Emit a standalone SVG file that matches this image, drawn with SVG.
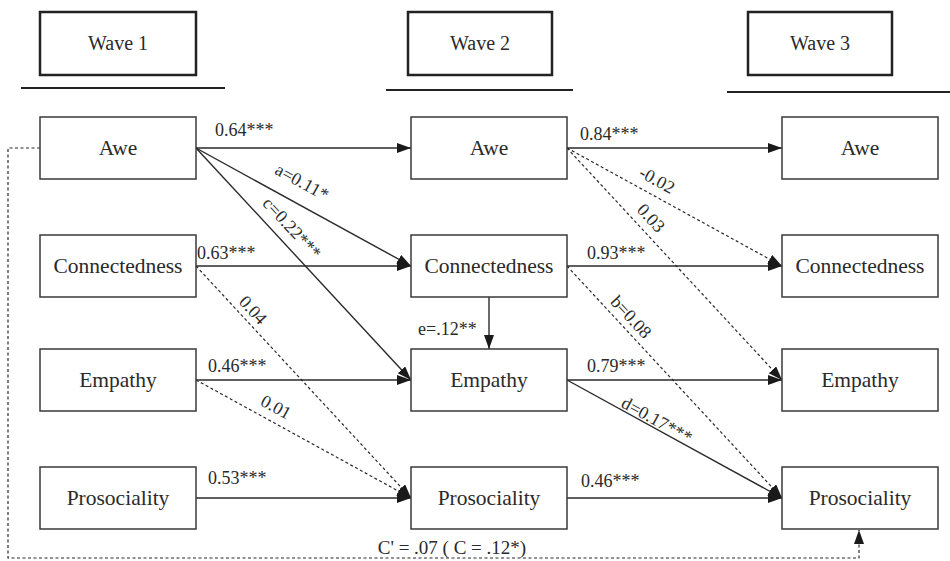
<svg xmlns="http://www.w3.org/2000/svg" width="950" height="561" viewBox="0 0 950 561">
<style>
.hdr{fill:#fff;stroke:#222;stroke-width:2.5}
.hline{stroke:#222;stroke-width:2.2}
.box{fill:#fff;stroke:#3a3a3a;stroke-width:1.5}
text{fill:#2a2a2a}
.ht{font-size:20px;text-anchor:middle}
.nt{font-size:21.5px;text-anchor:middle}
.lb{font-size:18px}
.rl{font-size:18px;text-anchor:middle}
.s{fill:none;stroke:#2a2a2a;stroke-width:1.4;marker-end:url(#ah)}
.d{fill:none;stroke:#2a2a2a;stroke-width:1.2;stroke-dasharray:3 2.5;marker-end:url(#ah)}
</style>
<defs>
<marker id="ah" markerUnits="userSpaceOnUse" markerWidth="15" markerHeight="11" refX="14" refY="5" orient="auto">
<path d="M0,0 L14,5 L0,10 z" fill="#1a1a1a"/>
</marker>
</defs>
<rect width="950" height="561" fill="#fff"/>
<g font-family="Liberation Serif, DejaVu Serif, Times New Roman, serif">
<g id="headers">
<g id="wave1"><rect class="hdr" x="40" y="12" width="156" height="63"/><text class="ht" x="118" y="50">Wave 1</text><line class="hline" x1="21" y1="88" x2="225" y2="88"/></g>
<g id="wave2"><rect class="hdr" x="408" y="12" width="144" height="63"/><text class="ht" x="480" y="50">Wave 2</text><line class="hline" x1="386" y1="90" x2="573" y2="90"/></g>
<g id="wave3"><rect class="hdr" x="748" y="12" width="144" height="63"/><text class="ht" x="820" y="50">Wave 3</text><line class="hline" x1="727" y1="92" x2="950" y2="92"/></g>
</g>
<g id="connectors">
<path class="s" d="M196,148 H411"/>
<path class="s" d="M196,148 L411,266"/>
<path class="s" d="M196,148 L411,380"/>
<path class="s" d="M196,266 H411"/>
<path class="d" d="M196,266 L411,498"/>
<path class="s" d="M196,380 H411"/>
<path class="d" d="M196,380 L411,498"/>
<path class="s" d="M196,498 H411"/>
<path class="s" d="M489,297 V349"/>
<path class="s" d="M567,148 H782"/>
<path class="d" d="M567,148 L782,266"/>
<path class="d" d="M567,148 L782,380"/>
<path class="s" d="M567,266 H782"/>
<path class="d" d="M567,266 L782,498"/>
<path class="s" d="M567,380 H782"/>
<path class="s" d="M567,380 L782,498"/>
<path class="s" d="M567,498 H782"/>
<path class="d" d="M40,148 H8 V558 H859 V530"/>
</g>
<g id="labels">
<text class="lb" x="215" y="136">0.64***</text>
<text class="lb" x="197" y="259">0.63***</text>
<text class="lb" x="208" y="372">0.46***</text>
<text class="lb" x="208" y="484">0.53***</text>
<text class="lb" x="580" y="140">0.84***</text>
<text class="lb" x="587" y="259">0.93***</text>
<text class="lb" x="587" y="372">0.79***</text>
<text class="lb" x="581" y="487">0.46***</text>
<text class="lb" x="418" y="335">e=.12**</text>
<text class="rl" transform="translate(302,182) rotate(28.8)" dy="6">a=0.11*</text>
<text class="rl" transform="translate(292,228) rotate(47.2)" dy="6">c=0.22***</text>
<text class="rl" transform="translate(253,310) rotate(47.2)" dy="6">0.04</text>
<text class="rl" transform="translate(276,407) rotate(28.8)" dy="6">0.01</text>
<text class="rl" transform="translate(657,180) rotate(28.8)" dy="6">-0.02</text>
<text class="rl" transform="translate(651,218) rotate(47.2)" dy="6">0.03</text>
<text class="rl" transform="translate(631,317) rotate(47.2)" dy="6">b=0.08</text>
<text class="rl" transform="translate(657,420) rotate(28.8)" dy="6">d=0.17***</text>
<text style="font-size:19px;text-anchor:middle" x="452" y="554">C' = .07 ( C = .12*)</text>
</g>
<g id="n-awe1"><rect class="box" x="40" y="117" width="156" height="62"/><text class="nt" x="118" y="155">Awe</text></g>
<g id="n-con1"><rect class="box" x="40" y="235" width="156" height="62"/><text class="nt" x="118" y="273">Connectedness</text></g>
<g id="n-emp1"><rect class="box" x="40" y="349" width="156" height="62"/><text class="nt" x="118" y="387">Empathy</text></g>
<g id="n-pro1"><rect class="box" x="40" y="467" width="156" height="62"/><text class="nt" x="118" y="505">Prosociality</text></g>
<g id="n-awe2"><rect class="box" x="411" y="117" width="156" height="62"/><text class="nt" x="489" y="155">Awe</text></g>
<g id="n-con2"><rect class="box" x="411" y="235" width="156" height="62"/><text class="nt" x="489" y="273">Connectedness</text></g>
<g id="n-emp2"><rect class="box" x="411" y="349" width="156" height="62"/><text class="nt" x="489" y="387">Empathy</text></g>
<g id="n-pro2"><rect class="box" x="411" y="467" width="156" height="62"/><text class="nt" x="489" y="505">Prosociality</text></g>
<g id="n-awe3"><rect class="box" x="782" y="117" width="156" height="62"/><text class="nt" x="860" y="155">Awe</text></g>
<g id="n-con3"><rect class="box" x="782" y="235" width="156" height="62"/><text class="nt" x="860" y="273">Connectedness</text></g>
<g id="n-emp3"><rect class="box" x="782" y="349" width="156" height="62"/><text class="nt" x="860" y="387">Empathy</text></g>
<g id="n-pro3"><rect class="box" x="782" y="467" width="156" height="62"/><text class="nt" x="860" y="505">Prosociality</text></g>
</g>
</svg>
